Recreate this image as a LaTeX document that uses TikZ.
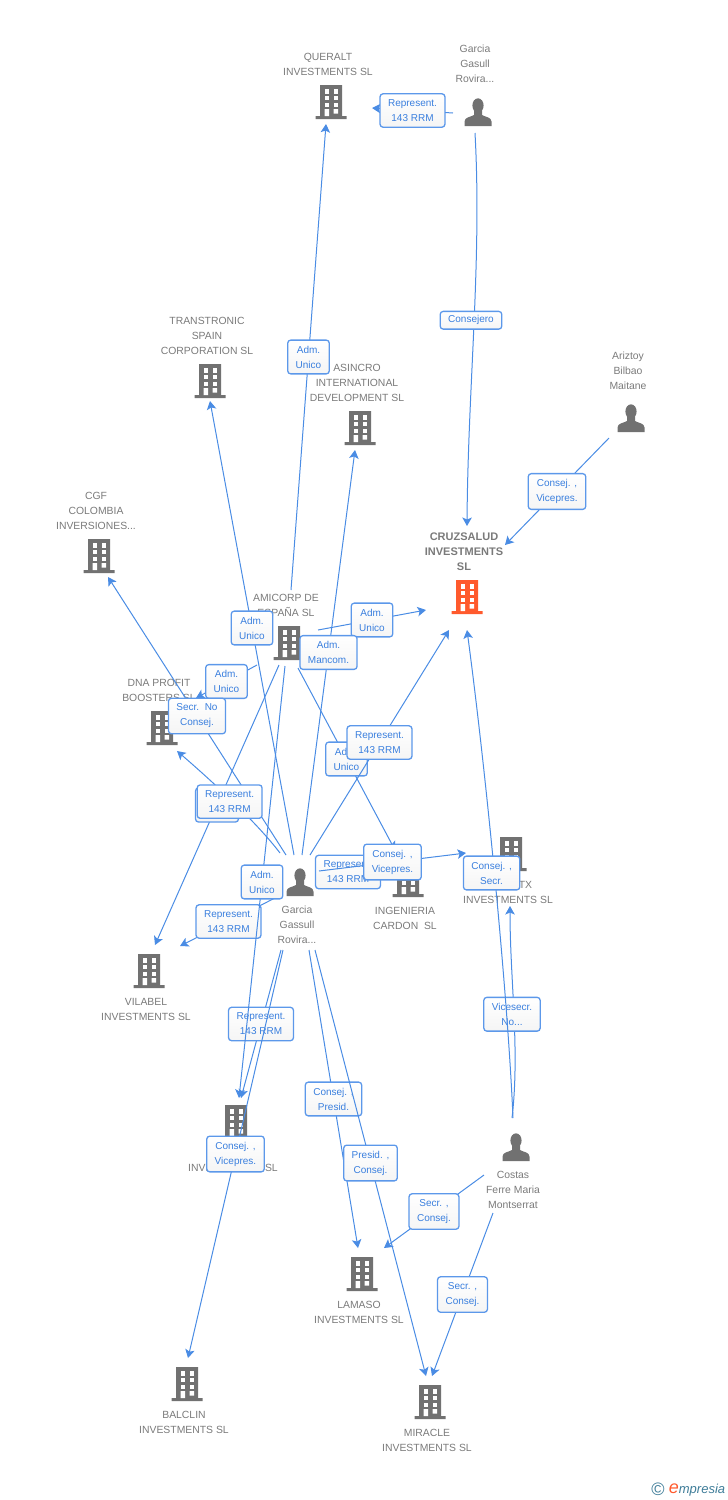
\documentclass[tikz,border=0pt]{standalone}
\usepackage{fontspec}
\setmainfont{Liberation Sans}
\usepackage{xcolor}
\usetikzlibrary{arrows.meta}
\definecolor{icongray}{HTML}{717171}
\definecolor{iconorange}{HTML}{FF5A2D}
\definecolor{namegray}{HTML}{7A7A7A}
\definecolor{linkblue}{HTML}{4A8CE4}
\definecolor{tagblue}{HTML}{5C98EA}
\definecolor{tagtext}{HTML}{3A7FDE}
\definecolor{brandteal}{HTML}{3E7C98}
\tikzset{
  lbl/.style={font=\fontsize{10.4}{15}\selectfont,text=namegray,align=center,inner sep=0pt,xshift=-3pt},
  lblup/.style={lbl,yshift=9pt},
  lbldown/.style={lbl,yshift=-9.5pt},
  company/.style={minimum width=32pt,minimum height=34pt,inner sep=0pt,
    path picture={
      \begin{scope}[shift={(path picture bounding box.center)}]
        \fill[#1] (-11,-17) rectangle (11,15) (-15.5,14) rectangle (15.5,17);
        \foreach \wx in {-6.5,2.5}
          \foreach \wy in {-13,-6.5,0.5}
            \fill[white] (\wx,\wy) rectangle ++(4.6,4.6);
        \fill[white] (-6.5,7) rectangle (-1.9,14) (2.5,7) rectangle (7.1,11.5);
      \end{scope}
    }},
  company/.default=icongray,
  person/.style={minimum width=28pt,minimum height=28pt,inner sep=0pt,
    path picture={
      \begin{scope}[shift={(path picture bounding box.center)}]
        \fill[icongray] (0,-6.5) ellipse (5.6 and 7.2);
        \fill[icongray] (-13.5,14) -- (-13.5,9.5) .. controls (-13.5,5) and (-7,5) .. (-4,3)
          -- (-4,-1) -- (4,-1) -- (4,3) .. controls (7,5) and (13.5,5) .. (13.5,9.5) -- (13.5,14) -- cycle;
      \end{scope}
    }},
  tag/.style={draw=tagblue,line width=1.3pt,rounded corners=3pt,top color=white,bottom color=black!4,
    text=tagtext,font=\fontsize{10}{15}\selectfont,align=center,inner xsep=8pt,inner ysep=5.7pt},
  link/.style={draw=linkblue,line width=1pt,-{Stealth[length=8.5pt,width=9.5pt,inset=2pt]}},
}
\begin{document}
\begin{tikzpicture}[x=1pt,y=-1pt]
\useasboundingbox (0,0) rectangle (728,1500);
% companies
\node[company,label={[lblup]above:QUERALT\\INVESTMENTS SL}] (queralt) at (331,102) {};
\node[company,label={[lblup]above:TRANSTRONIC\\SPAIN\\CORPORATION SL}] (transtronic) at (210,381) {};
\node[company,label={[lblup]above:ASINCRO\\INTERNATIONAL\\DEVELOPMENT SL}] (asincro) at (360,428) {};
\node[company,label={[lblup]above:CGF\\COLOMBIA\\INVERSIONES...}] (cgf) at (99,556) {};
\node[company=iconorange,label={[lblup,font=\fontsize{11}{15}\selectfont\bfseries]above:CRUZSALUD\\INVESTMENTS\\SL}] (cruzsalud) at (467,597) {};
\node[company,label={[lblup]above:AMICORP DE\\ESPAÑA SL}] (amicorp) at (289,643) {};
\node[company,label={[lblup]above:DNA PROFIT\\BOOSTERS SL}] (dna) at (162,728) {};
\node[company,label={[lbldown]below:\hspace*{35pt}TX\\INVESTMENTS SL}] (tx) at (511,854) {};
\node[company,label={[lbldown]below:INGENIERIA\\CARDON\ \ SL}] (ingenieria) at (408,880) {};
\node[company,label={[lbldown]below:VILABEL\\INVESTMENTS SL}] (vilabel) at (149,971) {};
\node[company,label={[lbl,yshift=-24.5pt]below:INVESTMENTS SL}] (invest) at (236,1122) {};
\node[company,label={[lbldown]below:LAMASO\\INVESTMENTS SL}] (lamaso) at (362,1274) {};
\node[company,label={[lbldown]below:BALCLIN\\INVESTMENTS SL}] (balclin) at (187,1384) {};
\node[company,label={[lbldown]below:MIRACLE\\INVESTMENTS SL}] (miracle) at (430,1402) {};
% people
\node[person,label={[lbl,yshift=15pt]above:Garcia\\Gasull\\Rovira...}] (garciatop) at (478,112) {};
\node[person,label={[lbl,yshift=14.5pt]above:Ariztoy\\Bilbao\\Maitane}] (ariztoy) at (631,418) {};
\node[person,label={[lbl,yshift=-10pt]below:Garcia\\Gassull\\Rovira...}] (garcia) at (300,882) {};
\node[person,label={[lbl,yshift=-10pt]below:Costas\\Ferre Maria\\Montserrat}] (costas) at (516,1147) {};
% links
\draw[link] ([shift={(-25,1)}]garciatop.center) -- node[tag] {Represent.\\143 RRM} ([shift={(41,6)}]queralt.center);
\draw[link] ([shift={(-3,21)}]garciatop.center) .. controls (482,260) and (468,385) .. node[tag,xshift=-3pt,yshift=4pt,inner ysep=4.2pt] {Consejero} ([shift={(0,-71)}]cruzsalud.center);
\draw[link] ([shift={(-22,20)}]ariztoy.center) -- node[tag] {Consej. ,\\Vicepres.} ([shift={(38,-52)}]cruzsalud.center);
\draw[link] ([shift={(2,-53)}]amicorp.center) -- node[tag] {Adm.\\Unico} ([shift={(-5,22)}]queralt.center);
\draw[link] ([shift={(-6,-27)}]garcia.center) -- node[tag] {Adm.\\Unico} ([shift={(0,20)}]transtronic.center);
\draw[link] ([shift={(29,-13)}]amicorp.center) -- node[tag] {Adm.\\Unico} ([shift={(-41,13)}]cruzsalud.center);
\draw[link] ([shift={(2,-27)}]garcia.center) -- node[tag] {Adm.\\Mancom.} ([shift={(-5,22)}]asincro.center);
\draw[link] ([shift={(-32,22)}]amicorp.center) -- node[tag] {Adm.\\Unico} ([shift={(34,-30)}]dna.center);
\draw[link] ([shift={(-14,-27)}]garcia.center) -- node[tag] {Secr.\ \ No\\Consej.} ([shift={(9,21)}]cgf.center);
\draw[link] ([shift={(-10,22)}]amicorp.center) -- node[tag,minimum width=43pt,minimum height=34pt] {} ([shift={(6,-26)}]vilabel.center);
\draw[link] ([shift={(-20,-29)}]garcia.center) .. controls (255,820) and (205,775) .. node[tag,yshift=-3pt] {Represent.\\143 RRM} ([shift={(15,23)}]dna.center);
\draw[link] ([shift={(9,25)}]amicorp.center) -- node[tag] {Adm.\\Unico} ([shift={(-13,-30)}]ingenieria.center);
\draw[link] ([shift={(10,-27)}]garcia.center) -- node[tag] {Represent.\\143 RRM} ([shift={(-18,33)}]cruzsalud.center);
\draw[link] ([shift={(-23,15)}]garcia.center) -- node[tag] {Represent.\\143 RRM} ([shift={(31,-25)}]vilabel.center);
\draw[link] ([shift={(20,-10)}]garcia.center) -- node[tag] {Represent.\\143 RRM} ([shift={(-32,-8)}]ingenieria.center);
\draw[link] ([shift={(19,-11)}]garcia.center) -- node[tag] {Consej. ,\\Vicepres.} ([shift={(-45,-1)}]tx.center);
\draw[link] ([shift={(-19,68)}]garcia.center) -- node[tag] {Represent.\\143 RRM} ([shift={(5,-24)}]invest.center);
\draw[link] ([shift={(-4,23)}]amicorp.center) -- node[tag] {Adm.\\Unico} ([shift={(3,-24)}]invest.center);
\draw[link] ([shift={(-17,68)}]garcia.center) -- node[tag] {Consej. ,\\Vicepres.} ([shift={(1,-26)}]balclin.center);
\draw[link] ([shift={(9,68)}]garcia.center) -- node[tag] {Consej. ,\\Presid.} ([shift={(-4,-26)}]lamaso.center);
\draw[link] ([shift={(15,68)}]garcia.center) -- node[tag] {Presid. ,\\Consej.} ([shift={(-4,-26)}]miracle.center);
\draw[link] ([shift={(-4,-29)}]costas.center) .. controls (520,1050) and (510,980) .. node[tag,xshift=-2pt] {Vicesecr.\\No...} ([shift={(-1,52)}]tx.center);
\draw[link] ([shift={(-3,-29)}]costas.center) .. controls (508,1000) and (487,780) .. node[tag,xshift=-4pt,yshift=13pt] {Consej. ,\\Secr.} ([shift={(0,33)}]cruzsalud.center);
\draw[link] ([shift={(-32,28)}]costas.center) -- node[tag] {Secr. ,\\Consej.} ([shift={(22,-26)}]lamaso.center);
\draw[link] ([shift={(-23,66)}]costas.center) -- node[tag] {Secr. ,\\Consej.} ([shift={(2,-26)}]miracle.center);
% brand mark
\node[inner sep=0pt,text=brandteal,font=\fontsize{18}{18}\selectfont] (copyright) at (658,1489) {©};
\node[inner sep=0pt,text=brandteal,font=\fontsize{13}{13}\selectfont\itshape] (brand) at (697,1490) {{\color{iconorange}\fontsize{18}{18}\selectfont e}mpresia};
\end{tikzpicture}
\end{document}
